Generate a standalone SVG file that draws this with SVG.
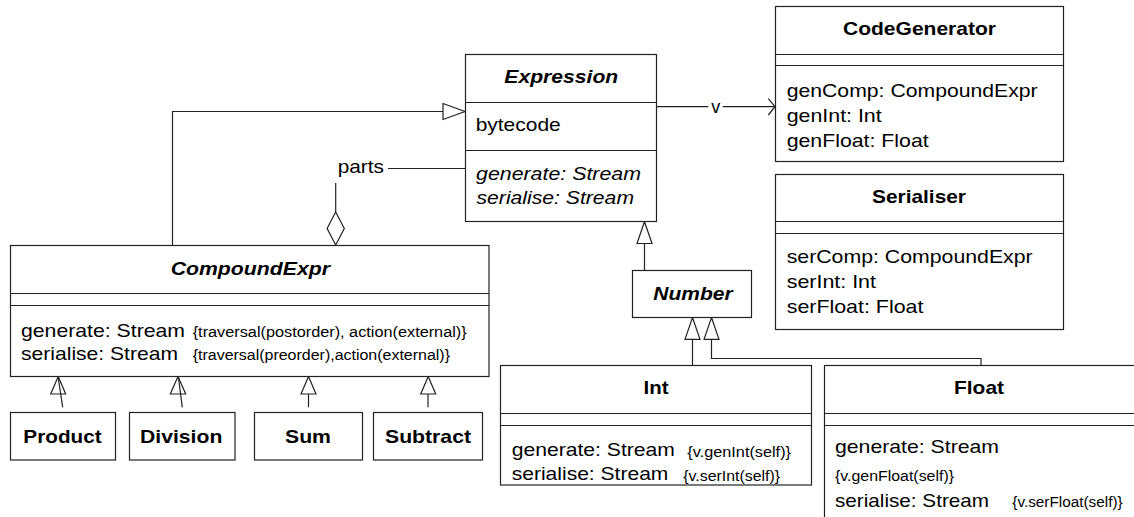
<svg xmlns="http://www.w3.org/2000/svg" width="1134" height="517" viewBox="0 0 1134 517">
  <style>
    .box { fill: #fff; stroke: #222; stroke-width: 1.2; }
    .sep { stroke: #222; stroke-width: 1.2; }
    .edge { fill: none; stroke: #222; stroke-width: 1.2; }
    .head { fill: #fff; stroke: #222; stroke-width: 1.2; }
    text { font-family: "Liberation Sans", Arial, sans-serif; fill: #000; }
    .t { font-size: 18.6px; }
    .title { font-size: 18.6px; font-weight: bold; text-anchor: middle; }
    .abs { font-style: italic; }
    .op { font-style: italic; }
    .small { font-size: 14px; }
  </style>

  <!-- connectors -->
  <g id="connectors">
    <!-- CompoundExpr generalises Expression -->
    <path class="edge" d="M172.5 245.5 V111.5 H443"/>
    <polygon class="head" points="443,103.5 465,111.5 443,119.5"/>
    <!-- parts aggregation -->
    <path class="edge" d="M465 168.5 H388"/>
    <text class="t" x="337.7" y="173" textLength="46.3" lengthAdjust="spacingAndGlyphs">parts</text>
    <path class="edge" d="M335.7 183 V212"/>
    <polygon class="head" points="335.7,212 344.3,228.5 335.7,245 327.1,228.5"/>
    <!-- v navigable association -->
    <path class="edge" d="M656.7 106.7 H708.3"/>
    <text class="t" x="715.8" y="112.5" text-anchor="middle" textLength="9" lengthAdjust="spacingAndGlyphs">v</text>
    <path class="edge" d="M722.7 106.7 H775"/>
    <polyline class="edge" points="768.3,98.7 775,106.7 768.3,115"/>
    <!-- Number generalises Expression -->
    <path class="edge" d="M644.5 270.5 V243.5"/>
    <polygon class="head" points="644.5,221.7 652,243.5 637,243.5"/>
    <!-- Int, Float generalise Number -->
    <path class="edge" d="M692.5 365.5 V339.3"/>
    <polygon class="head" points="692.5,317.5 700,339.3 685,339.3"/>
    <path class="edge" d="M981 365.5 V358.5 H711.5 V339.3"/>
    <polygon class="head" points="711.5,317.5 719,339.3 704,339.3"/>
    <!-- subclasses of CompoundExpr -->
    <polygon class="head" points="58.2,376.5 65.7,394 50.7,394"/>
    <path class="edge" d="M62.7 407.3 L58.3 378"/>
    <polygon class="head" points="178,376.5 185.7,394 170.3,394"/>
    <path class="edge" d="M182.3 407.3 L178.5 378"/>
    <polygon class="head" points="308.5,376.5 316,394 301,394"/>
    <path class="edge" d="M308.5 394 V407.3"/>
    <polygon class="head" points="428.2,376.5 435.7,394 420.7,394"/>
    <path class="edge" d="M428 394 V407.3"/>
  </g>

  <!-- Expression -->
  <g id="expression">
    <rect class="box" x="465.5" y="54.5" width="191" height="167"/>
    <line class="sep" x1="465.5" y1="102.5" x2="656.5" y2="102.5"/>
    <line class="sep" x1="465.5" y1="150.5" x2="656.5" y2="150.5"/>
    <text class="title abs" x="561.3" y="83" textLength="114" lengthAdjust="spacingAndGlyphs">Expression</text>
    <text class="t" x="475.7" y="131" textLength="85" lengthAdjust="spacingAndGlyphs">bytecode</text>
    <text class="t op" x="476" y="180" textLength="165" lengthAdjust="spacingAndGlyphs">generate: Stream</text>
    <text class="t op" x="476.5" y="204" textLength="157.5" lengthAdjust="spacingAndGlyphs">serialise: Stream</text>
  </g>

  <!-- CodeGenerator -->
  <g id="codegenerator">
    <rect class="box" x="775.5" y="6.5" width="288" height="155"/>
    <line class="sep" x1="775.5" y1="54.5" x2="1063.5" y2="54.5"/>
    <line class="sep" x1="775.5" y1="65.5" x2="1063.5" y2="65.5"/>
    <text class="title" x="919.5" y="35" textLength="153" lengthAdjust="spacingAndGlyphs">CodeGenerator</text>
    <text class="t" x="786.7" y="96.7" textLength="251" lengthAdjust="spacingAndGlyphs">genComp: CompoundExpr</text>
    <text class="t" x="786.7" y="121.7" textLength="95" lengthAdjust="spacingAndGlyphs">genInt: Int</text>
    <text class="t" x="786.7" y="146.6" textLength="142" lengthAdjust="spacingAndGlyphs">genFloat: Float</text>
  </g>

  <!-- Serialiser -->
  <g id="serialiser">
    <rect class="box" x="775.5" y="174.5" width="288" height="155"/>
    <line class="sep" x1="775.5" y1="221.5" x2="1063.5" y2="221.5"/>
    <line class="sep" x1="775.5" y1="233.5" x2="1063.5" y2="233.5"/>
    <text class="title" x="919" y="203.3" textLength="94" lengthAdjust="spacingAndGlyphs">Serialiser</text>
    <text class="t" x="786.7" y="263.4" textLength="246" lengthAdjust="spacingAndGlyphs">serComp: CompoundExpr</text>
    <text class="t" x="786.7" y="288.4" textLength="89.3" lengthAdjust="spacingAndGlyphs">serInt: Int</text>
    <text class="t" x="786.7" y="313.3" textLength="136.7" lengthAdjust="spacingAndGlyphs">serFloat: Float</text>
  </g>

  <!-- CompoundExpr -->
  <g id="compoundexpr">
    <rect class="box" x="10.5" y="245.5" width="478.5" height="131"/>
    <line class="sep" x1="10.5" y1="293.5" x2="489" y2="293.5"/>
    <line class="sep" x1="10.5" y1="305.5" x2="489" y2="305.5"/>
    <text class="title abs" x="250.3" y="275" textLength="159.3" lengthAdjust="spacingAndGlyphs">CompoundExpr</text>
    <text class="t" x="21" y="336.7" textLength="164" lengthAdjust="spacingAndGlyphs">generate: Stream</text>
    <text class="small" x="192.7" y="336.7" textLength="274" lengthAdjust="spacingAndGlyphs">{traversal(postorder), action(external)}</text>
    <text class="t" x="21" y="360" textLength="157" lengthAdjust="spacingAndGlyphs">serialise: Stream</text>
    <text class="small" x="192.7" y="360" textLength="257.3" lengthAdjust="spacingAndGlyphs">{traversal(preorder),action(external)}</text>
  </g>

  <!-- Number -->
  <g id="number">
    <rect class="box" x="632.5" y="270.5" width="119" height="47"/>
    <text class="title abs" x="693" y="300" textLength="79.3" lengthAdjust="spacingAndGlyphs">Number</text>
  </g>

  <!-- Int -->
  <g id="int">
    <rect class="box" x="500.5" y="365.5" width="311" height="119.5"/>
    <line class="sep" x1="500.5" y1="413.5" x2="811.5" y2="413.5"/>
    <line class="sep" x1="500.5" y1="425.5" x2="811.5" y2="425.5"/>
    <text class="title" x="656" y="394" textLength="25" lengthAdjust="spacingAndGlyphs">Int</text>
    <text class="t" x="511.7" y="456" textLength="163.3" lengthAdjust="spacingAndGlyphs">generate: Stream</text>
    <text class="small" x="687.3" y="457" textLength="103.7" lengthAdjust="spacingAndGlyphs">{v.genInt(self)}</text>
    <text class="t" x="511.7" y="480" textLength="156.7" lengthAdjust="spacingAndGlyphs">serialise: Stream</text>
    <text class="small" x="683.3" y="481" textLength="96.7" lengthAdjust="spacingAndGlyphs">{v.serInt(self)}</text>
  </g>

  <!-- Float (runs past the right and bottom edges) -->
  <g id="float">
    <rect class="box" x="824.5" y="365.5" width="400" height="200"/>
    <line class="sep" x1="824.5" y1="413.5" x2="1134" y2="413.5"/>
    <line class="sep" x1="824.5" y1="425.5" x2="1134" y2="425.5"/>
    <text class="title" x="979" y="394" textLength="50" lengthAdjust="spacingAndGlyphs">Float</text>
    <text class="t" x="835" y="453.3" textLength="164" lengthAdjust="spacingAndGlyphs">generate: Stream</text>
    <text class="small" x="835" y="480.7" textLength="119" lengthAdjust="spacingAndGlyphs">{v.genFloat(self)}</text>
    <text class="t" x="835" y="506.7" textLength="154" lengthAdjust="spacingAndGlyphs">serialise: Stream</text>
    <text class="small" x="1012.3" y="506.7" textLength="110.3" lengthAdjust="spacingAndGlyphs">{v.serFloat(self)}</text>
  </g>

  <!-- CompoundExpr subclasses -->
  <g id="product">
    <rect class="box" x="10.5" y="412.5" width="105" height="47.5"/>
    <text class="title" x="62.5" y="443.3" textLength="78.3" lengthAdjust="spacingAndGlyphs">Product</text>
  </g>
  <g id="division">
    <rect class="box" x="129.5" y="412.5" width="105.5" height="47.5"/>
    <text class="title" x="181.2" y="443.3" textLength="82.3" lengthAdjust="spacingAndGlyphs">Division</text>
  </g>
  <g id="sum">
    <rect class="box" x="254.5" y="412.5" width="108" height="47.5"/>
    <text class="title" x="308" y="443.3" textLength="46" lengthAdjust="spacingAndGlyphs">Sum</text>
  </g>
  <g id="subtract">
    <rect class="box" x="373.5" y="412.5" width="109" height="47.5"/>
    <text class="title" x="428" y="443.3" textLength="86" lengthAdjust="spacingAndGlyphs">Subtract</text>
  </g>
</svg>
